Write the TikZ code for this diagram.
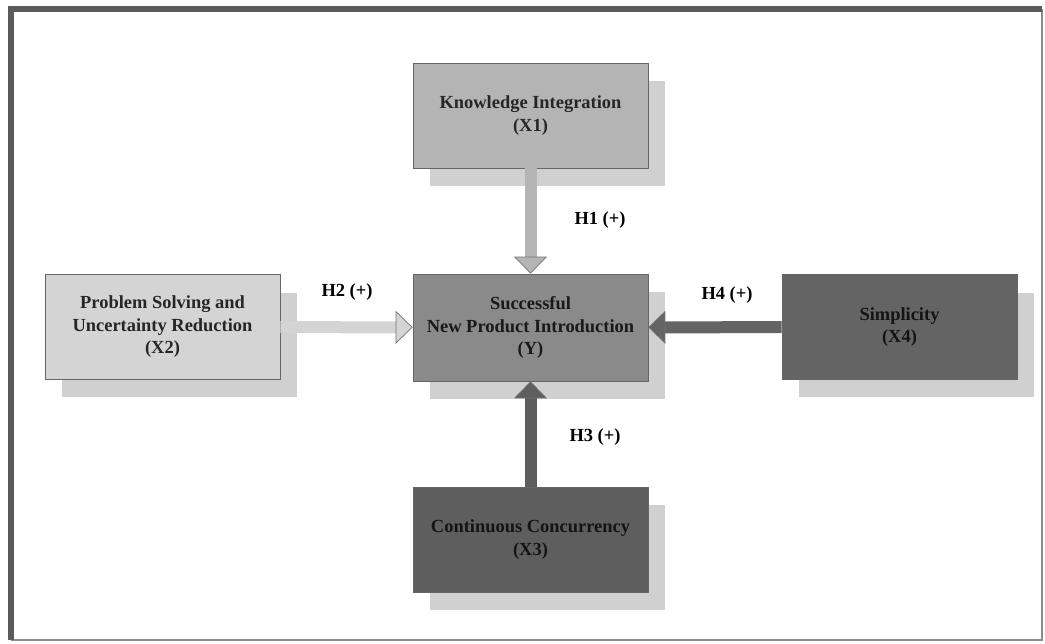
\documentclass[tikz,border=0pt]{standalone}
\usepackage{fontspec}
\setmainfont{Liberation Serif}
\usetikzlibrary{arrows.meta, shadows}

\definecolor{xonegray}{HTML}{B4B4B4}
\definecolor{xtwogray}{HTML}{D4D4D4}
\definecolor{ygray}{HTML}{8A8A8A}
\definecolor{xthreegray}{HTML}{5E5E5E}
\definecolor{xfourgray}{HTML}{646464}
\definecolor{shadowgray}{HTML}{D0D0D0}
\definecolor{framegray}{HTML}{5A5A5A}

\begin{document}
\begin{tikzpicture}[x=0.02cm, y=-0.02cm,
    box/.style={draw=black!60, line width=.4pt, minimum width=4.7cm, minimum height=2.1cm,
      inner sep=0pt, align=center, text=black!85, font=\bfseries\fontsize{10.5}{12.8}\selectfont,
      drop shadow={shadow xshift=0.34cm, shadow yshift=-0.36cm, fill=shadowgray, opacity=1}},
    hyp/.style={font=\bfseries\fontsize{10.5}{12.8}\selectfont},
    blockarrow/.style={line width=0.24cm,
      -{Triangle[width=0.66cm, length=0.34cm, line width=.4pt, color=black!55, fill=#1]}}]
    \useasboundingbox (0,0) rectangle (1045,643);
    \draw [line width=0.05cm, framegray!70] (1042,9) -- (1042,640) -- (11,640);
    \draw [line width=0.11cm, framegray] (11,640) -- (11,9) -- (1042,9);

    \node [box, fill=xonegray] (X1) at (530.5,115.5) {Knowledge Integration\\(X1)};
    \node [box, fill=xtwogray] (X2) at (162.5,327) {Problem Solving and\\Uncertainty Reduction\\(X2)};
    \node [box, fill=ygray, minimum height=2.14cm, text=black!90] (Y) at (530.5,327.5) {Successful\\New Product Introduction\\(Y)};
    \node [box, fill=xthreegray, text=black!92] (X3) at (530.5,539.5) {Continuous Concurrency\\(X3)};
    \node [box, fill=xfourgray, text=black!92] (X4) at (899.5,327) {Simplicity\\(X4)};

    \draw [blockarrow=xonegray, xonegray] (X1) -- (Y);
    \draw [blockarrow=xtwogray, xtwogray] (X2) -- (Y);
    \draw [blockarrow=xthreegray, xthreegray] (X3) -- (Y);
    \draw [blockarrow=xfourgray, xfourgray] (X4) -- (Y);

    \node [hyp] (H1) at (600,220) {H1 (+)};
    \node [hyp] (H2) at (347,292) {H2 (+)};
    \node [hyp] (H3) at (595,437) {H3 (+)};
    \node [hyp] (H4) at (727,295) {H4 (+)};
  \end{tikzpicture}
\end{document}
